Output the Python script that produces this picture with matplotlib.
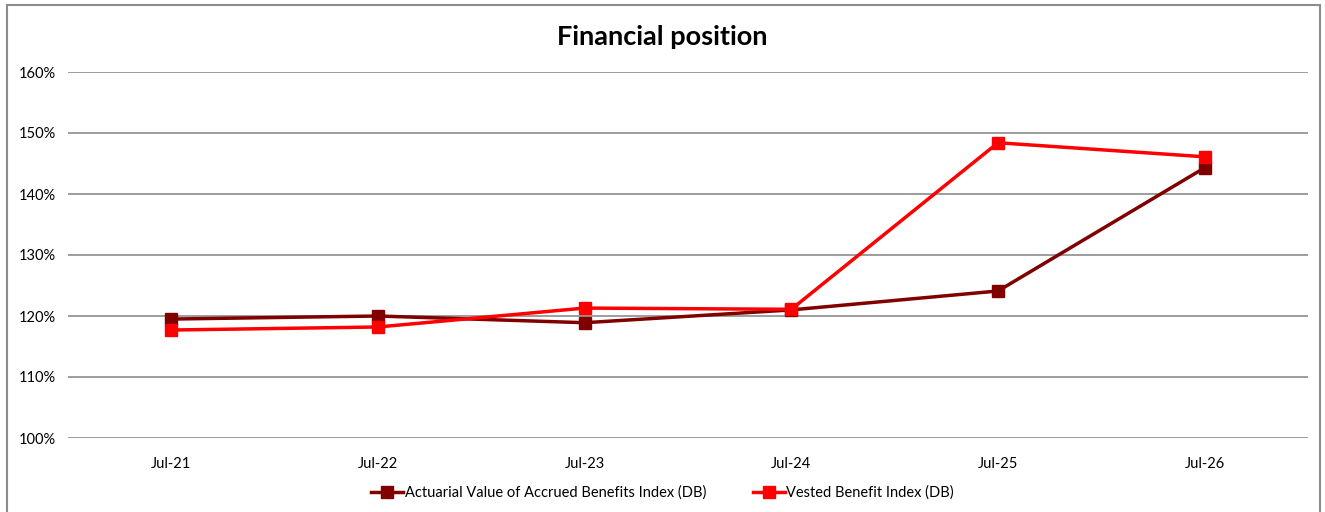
import matplotlib.pyplot as plt
from matplotlib.patches import Rectangle
from matplotlib.ticker import FuncFormatter

plt.rcParams['font.family'] = ['Lato', 'DejaVu Sans']

dates = ['Jul-21', 'Jul-22', 'Jul-23', 'Jul-24', 'Jul-25', 'Jul-26']
actuarial = [119.5, 120.0, 118.9, 121.0, 124.1, 144.3]
vested = [117.7, 118.2, 121.3, 121.1, 148.4, 146.1]
yticks = [100, 110, 120, 130, 140, 150, 160]

W, H = 1325, 512
fig = plt.figure(figsize=(W / 100, H / 100), dpi=100)
ax = fig.add_axes([68 / W, (H - 438) / H, (1308 - 68) / W, (438 - 72) / H])

# outer chart frame (bottom edge is cut off in the original)
fig.patches.append(Rectangle((7 / W, -0.05), (1320 - 7) / W, (H - 5) / H + 0.05,
                             transform=fig.transFigure, fill=False,
                             edgecolor='#8c8c8c', linewidth=1.5))

x = list(range(len(dates)))
ax.plot(x, actuarial, color='#800000', linewidth=2.5, marker='s', markersize=9,
        label='Actuarial Value of Accrued Benefits Index (DB)', zorder=3)
ax.plot(x, vested, color='#ff0000', linewidth=2.5, marker='s', markersize=9,
        label='Vested Benefit Index (DB)', zorder=3)

ax.set_xlim(-0.5, len(dates) - 0.5)
ax.set_ylim(100, 160)
ax.set_yticks(yticks)
ax.yaxis.set_major_formatter(FuncFormatter(lambda v, p: f'{v:.0f}%'))
ax.set_xticks(x)
ax.set_xticklabels(dates)
ax.grid(axis='y', color='#8c8c8c', linewidth=1.2)
ax.set_axisbelow(True)
for s in ax.spines.values():
    s.set_visible(False)
ax.tick_params(length=0, labelsize=10.5, colors='black')
ax.tick_params(axis='x', pad=14)
ax.tick_params(axis='y', pad=9)

fig.text(0.5, (H - 37) / H, 'Financial position', ha='center', va='center',
         fontsize=19.5, fontweight='bold')

fig.legend(loc='center', bbox_to_anchor=(0.5, (H - 493) / H), ncol=2, frameon=False,
           fontsize=10.5, handlelength=2.2, handletextpad=0.1, columnspacing=3.2,
           markerscale=0.9)

fig.savefig('out.png', dpi=100)
